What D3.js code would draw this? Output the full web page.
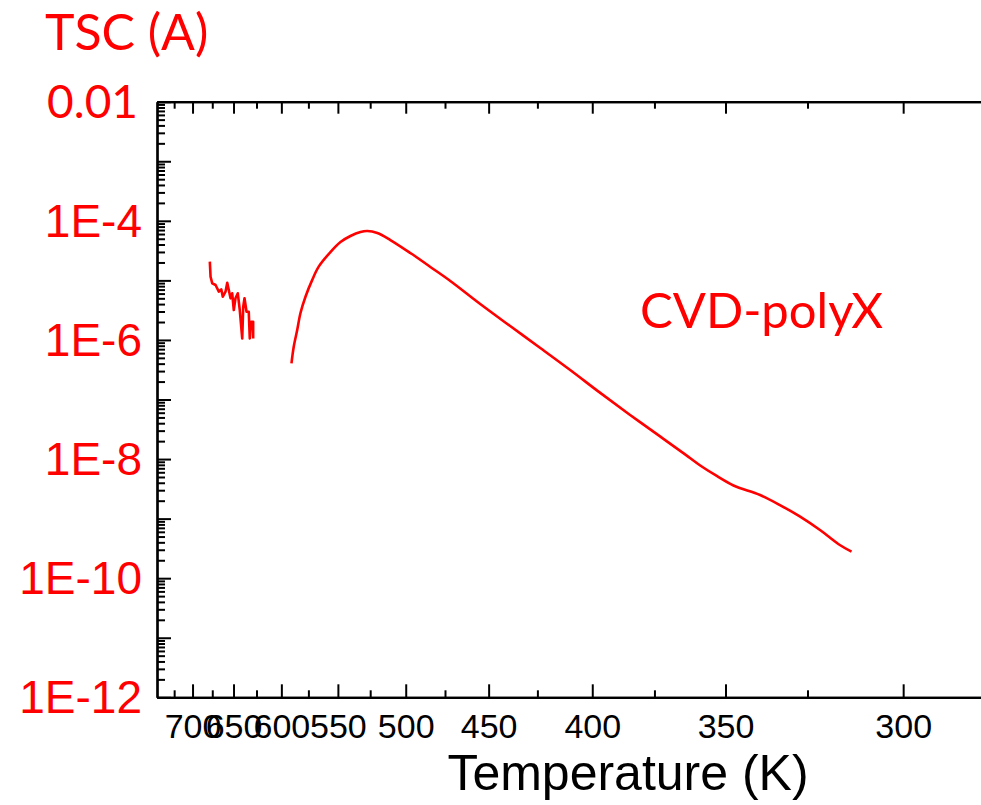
<!DOCTYPE html>
<html><head><meta charset="utf-8">
<script src="https://cdn.jsdelivr.net/npm/d3@7"></script>
<style>body{margin:0;background:#fff;overflow:hidden}</style>
</head><body>
<svg id="c" width="981" height="805"></svg>
<script>
// ---- data ----
// noisy high-temperature segment
const tempNoisy = [678.0,677.1,675.0,671.0,667.1,664.2,662.4,659.2,657.2,655.4,653.4,651.5,649.7,647.8,645.2,643.0,640.3,639.2,637.8,635.6,633.2,632.1,630.6,628.5,628.5];
const tscNoisy  = [2.06e-5,1.15e-5,8.93e-6,8.36e-6,6.46e-6,7.08e-6,5.32e-6,6.46e-6,9.14e-6,6.89e-6,5.00e-6,6.07e-6,3.18e-6,5.00e-6,6.07e-6,3.18e-6,1.06e-6,3.61e-6,5.00e-6,2.98e-6,2.98e-6,1.06e-6,2.02e-6,2.02e-6,1.06e-6];
// main TSC curve
const tempMain = [590.4,588.3,585.1,582.1,577.6,571.7,566.0,556.1,547.9,540.0,532.3,527.1,519.8,510.5,496.9,484.0,471.8,454.6,438.6,423.6,409.7,396.6,384.4,372.9,363.8,358.5,352.9,347.4,339.0,333.0,327.1,321.5,316.1,313.0];
const tscMain  = [4.05e-7,7.7e-7,1.47e-6,2.83e-6,5.32e-6,1.01e-5,1.70e-5,2.99e-5,4.41e-5,5.56e-5,6.49e-5,6.75e-5,6.24e-5,4.76e-5,2.88e-5,1.68e-5,9.77e-6,4.01e-6,1.71e-6,7.33e-7,3.13e-7,1.29e-7,5.5e-8,2.4e-8,1.2e-8,7.8e-9,5.2e-9,3.6e-9,2.49e-9,1.69e-9,1.08e-9,6.44e-10,3.61e-10,2.79e-10];
const xMajorTicks = [700,650,600,550,500,450,400,350,300];
const xMinorTicks = [725,675,625,575,525,475,425,375,325];
const yMajorTicks = [1e-2,1e-3,1e-4,1e-5,1e-6,1e-7,1e-8,1e-9,1e-10,1e-11,1e-12];
const yLabelTicks = [1e-2,1e-4,1e-6,1e-8,1e-10,1e-12];
const yLabels = ["0.01","1E-4","1E-6","1E-8","1E-10","1E-12"];
const xTitle = "Temperature (K)";
const yTitle = "TSC (A)";
const seriesName = "CVD-polyX";

// ---- layout ----
const L = 157, R = 992, T = 101.7, B = 697.3;
const svg = d3.select("#c");
const x = d3.scaleLinear().domain([1000/750, 1000/280]).range([L, R]);
const px = t => x(1000/t);
const y = d3.scaleLog().domain([1e-12, 1e-2]).range([B, T]);

const yMinor = [];
yMajorTicks.slice(1).forEach(d => { for (let k = 2; k <= 9; k++) yMinor.push(d*k); });

function styleAxis(g){
  g.select(".domain").attr("stroke","#000").attr("stroke-width",2.2);
  g.selectAll(".tick line").attr("stroke","#000").attr("stroke-width",2);
}
const inv = xMajorTicks.map(t => 1000/t);
const invMin = xMinorTicks.map(t => 1000/t);

// bottom axis
svg.append("g").attr("transform",`translate(0,${B})`)
  .call(d3.axisBottom(x).tickValues(invMin).tickSize(-7).tickFormat("").tickSizeOuter(0)).call(styleAxis);
const gb = svg.append("g").attr("transform",`translate(0,${B})`)
  .call(d3.axisBottom(x).tickValues(inv).tickSize(-13).tickSizeOuter(0).tickPadding(17)
    .tickFormat(v => String(Math.round(1000/v)))).call(styleAxis);
gb.selectAll("text").attr("font-family","Liberation Sans, Arial, sans-serif").attr("font-size",34).attr("fill","#000");
// top axis
svg.append("g").attr("transform",`translate(0,${T})`)
  .call(d3.axisTop(x).tickValues(invMin).tickSize(-7).tickFormat("").tickSizeOuter(0)).call(styleAxis);
svg.append("g").attr("transform",`translate(0,${T})`)
  .call(d3.axisTop(x).tickValues(inv).tickSize(-12).tickFormat("").tickSizeOuter(0)).call(styleAxis);

// left axis
svg.append("g").attr("transform",`translate(${L},0)`)
  .call(d3.axisLeft(y).tickValues(yMinor).tickSize(-8).tickFormat("").tickSizeOuter(0)).call(styleAxis);
svg.append("g").attr("transform",`translate(${L},0)`)
  .call(d3.axisLeft(y).tickValues(yMajorTicks).tickSize(-14).tickFormat("").tickSizeOuter(0)).call(styleAxis);

// y labels
svg.append("g").selectAll("text").data(yLabelTicks).join("text")
  .attr("x", (d,i) => i===0 ? 138 : 142).attr("y", d => y(d)).attr("dy","0.35em")
  .attr("text-anchor","end").attr("fill","#ff0000")
  .attr("font-family",(d,i) => i===0 ? "Lato, Open Sans, sans-serif" : "Liberation Sans, Arial, sans-serif")
  .attr("font-size",46)
  .text((d,i) => yLabels[i]);

// titles
svg.append("text").attr("x",628).attr("y",790).attr("text-anchor","middle")
  .attr("font-family","Liberation Sans, Arial, sans-serif").attr("font-size",50).attr("fill","#000").text(xTitle);
svg.append("text").attr("x",45).attr("y",50)
  .attr("font-family","Lato, Open Sans, sans-serif").attr("font-size",50).attr("fill","#ff0000").text(yTitle);
svg.append("text").attr("x",640).attr("y",328)
  .attr("font-family","Lato, Open Sans, sans-serif").attr("font-size",49).attr("fill","#ff0000").text(seriesName);

// lines
const line = d3.line().x(d => px(d[0])).y(d => y(d[1]));
svg.append("clipPath").attr("id","pc").append("rect").attr("x",L).attr("y",T).attr("width",R-L).attr("height",B-T);
svg.append("path").datum(d3.zip(tempNoisy, tscNoisy)).attr("d", line)
  .attr("fill","none").attr("stroke","#ff0000").attr("stroke-width",2.6).attr("stroke-linejoin","round").attr("clip-path","url(#pc)");
svg.append("path").datum(d3.zip(tempMain, tscMain)).attr("d", line.curve(d3.curveCatmullRom.alpha(0.5)))
  .attr("fill","none").attr("stroke","#ff0000").attr("stroke-width",2.6).attr("stroke-linejoin","round").attr("clip-path","url(#pc)");
</script>
</body></html>
